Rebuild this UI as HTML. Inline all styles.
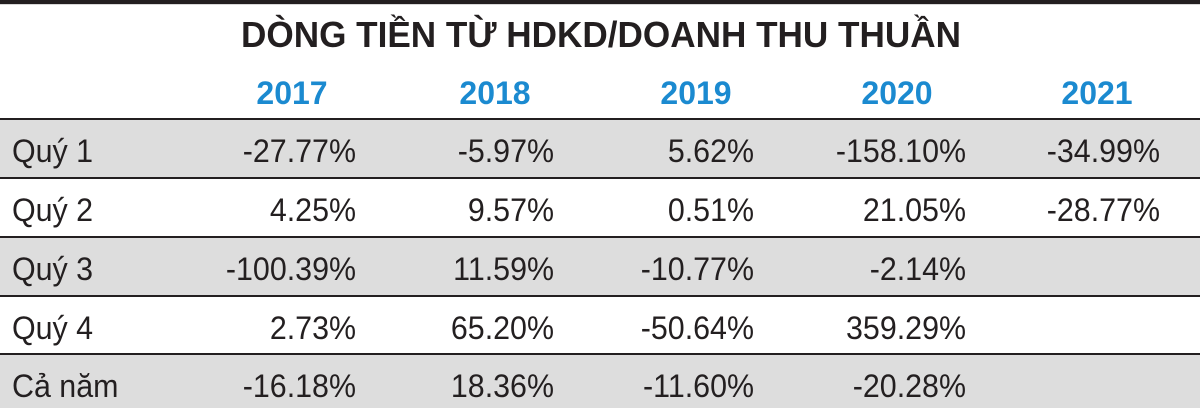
<!DOCTYPE html>
<html>
<head>
<meta charset="utf-8">
<style>
  html,body{margin:0;padding:0;background:#fff;}
  svg{display:block;}
  text{font-family:"Liberation Sans","DejaVu Sans",sans-serif;fill:#231f20;}
  .t{font-weight:bold;font-size:36px;}
  .y{font-weight:bold;font-size:32px;fill:#1b8ad0;}
  .v{font-size:32px;}
</style>
</head>
<body>
<svg width="1200" height="412" viewBox="0 0 1200 412" xmlns="http://www.w3.org/2000/svg">
  <rect x="0" y="0" width="1200" height="412" fill="#ffffff"/>
  <rect x="0" y="0" width="1200" height="4" fill="#231f20"/>
  <rect x="0" y="4" width="1200" height="1" fill="#d8d8d8"/>

  <!-- Title -->
  <text class="t" x="241" y="47" textLength="720" lengthAdjust="spacingAndGlyphs">DÒNG TIỀN TỪ HDKD/DOANH THU THUẦN</text>

  <!-- Years -->
  <text class="y" x="292" y="104" text-anchor="middle">2017</text>
  <text class="y" x="495" y="104" text-anchor="middle">2018</text>
  <text class="y" x="696" y="104" text-anchor="middle">2019</text>
  <text class="y" x="897" y="104" text-anchor="middle">2020</text>
  <text class="y" x="1097" y="104" text-anchor="middle">2021</text>

  <!-- Row backgrounds -->
  <rect x="0" y="120" width="1200" height="57" fill="#dddddd"/>
  <rect x="0" y="238" width="1200" height="57" fill="#dddddd"/>
  <rect x="0" y="355" width="1200" height="53" fill="#dddddd"/>

  <!-- Lines -->
  <rect x="0" y="118" width="1200" height="2" fill="#231f20"/>
  <rect x="0" y="177" width="1200" height="2" fill="#231f20"/>
  <rect x="0" y="236" width="1200" height="2" fill="#231f20"/>
  <rect x="0" y="295" width="1200" height="2" fill="#231f20"/>
  <rect x="0" y="353" width="1200" height="2" fill="#231f20"/>

  <!-- Row 1 -->
  <text class="v" transform="translate(12,162) scale(0.95,1)">Quý 1</text>
  <text class="v" text-anchor="end" transform="translate(356,162) scale(0.95,1)">-27.77%</text>
  <text class="v" text-anchor="end" transform="translate(554,162) scale(0.95,1)">-5.97%</text>
  <text class="v" text-anchor="end" transform="translate(754,162) scale(0.95,1)">5.62%</text>
  <text class="v" text-anchor="end" transform="translate(966,162) scale(0.95,1)">-158.10%</text>
  <text class="v" text-anchor="end" transform="translate(1160,162) scale(0.95,1)">-34.99%</text>

  <!-- Row 2 -->
  <text class="v" transform="translate(12,221) scale(0.95,1)">Quý 2</text>
  <text class="v" text-anchor="end" transform="translate(356,221) scale(0.95,1)">4.25%</text>
  <text class="v" text-anchor="end" transform="translate(554,221) scale(0.95,1)">9.57%</text>
  <text class="v" text-anchor="end" transform="translate(754,221) scale(0.95,1)">0.51%</text>
  <text class="v" text-anchor="end" transform="translate(966,221) scale(0.95,1)">21.05%</text>
  <text class="v" text-anchor="end" transform="translate(1160,221) scale(0.95,1)">-28.77%</text>

  <!-- Row 3 -->
  <text class="v" transform="translate(12,280) scale(0.95,1)">Quý 3</text>
  <text class="v" text-anchor="end" transform="translate(356,280) scale(0.95,1)">-100.39%</text>
  <text class="v" text-anchor="end" transform="translate(554,280) scale(0.95,1)">11.59%</text>
  <text class="v" text-anchor="end" transform="translate(754,280) scale(0.95,1)">-10.77%</text>
  <text class="v" text-anchor="end" transform="translate(966,280) scale(0.95,1)">-2.14%</text>

  <!-- Row 4 -->
  <text class="v" transform="translate(12,339) scale(0.95,1)">Quý 4</text>
  <text class="v" text-anchor="end" transform="translate(356,339) scale(0.95,1)">2.73%</text>
  <text class="v" text-anchor="end" transform="translate(554,339) scale(0.95,1)">65.20%</text>
  <text class="v" text-anchor="end" transform="translate(754,339) scale(0.95,1)">-50.64%</text>
  <text class="v" text-anchor="end" transform="translate(966,339) scale(0.95,1)">359.29%</text>

  <!-- Row 5 -->
  <text class="v" transform="translate(12,397) scale(0.95,1)">Cả năm</text>
  <text class="v" text-anchor="end" transform="translate(356,397) scale(0.95,1)">-16.18%</text>
  <text class="v" text-anchor="end" transform="translate(554,397) scale(0.95,1)">18.36%</text>
  <text class="v" text-anchor="end" transform="translate(754,397) scale(0.95,1)">-11.60%</text>
  <text class="v" text-anchor="end" transform="translate(966,397) scale(0.95,1)">-20.28%</text>
</svg>
</body>
</html>
